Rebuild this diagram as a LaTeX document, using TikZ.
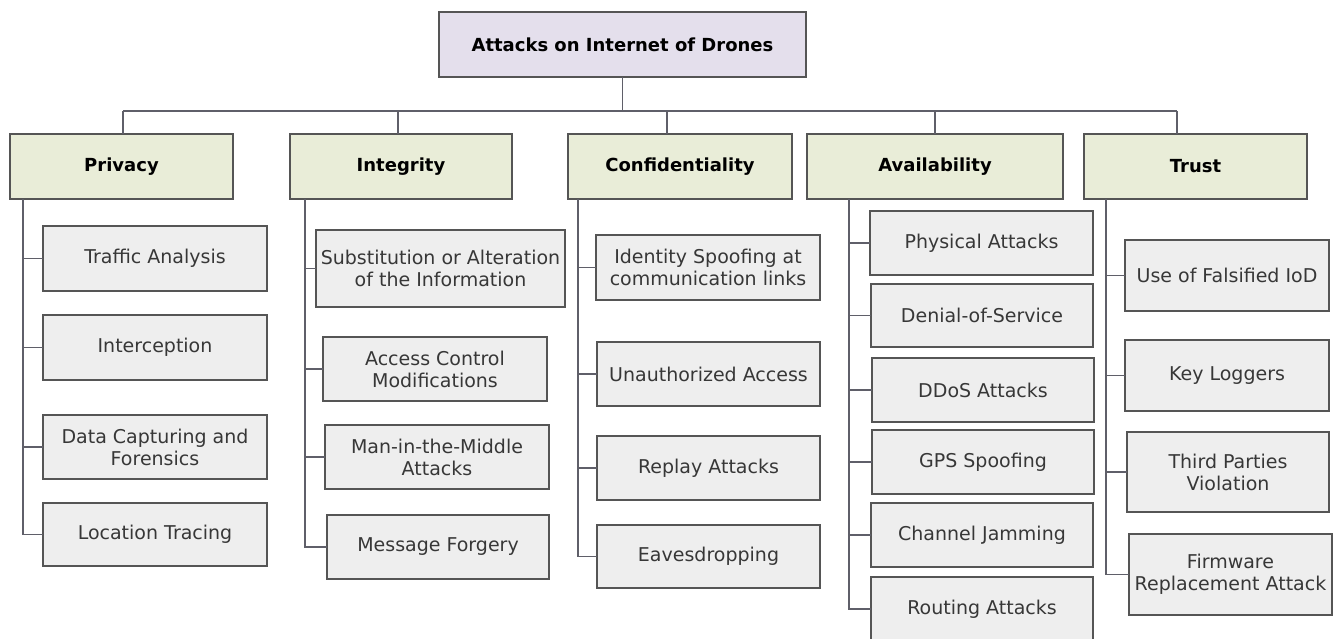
\documentclass[tikz,border=0pt]{standalone}
\usepackage{fontspec}
\setmainfont{DejaVu Sans}
\definecolor{rootfill}{RGB}{228,223,236}
\definecolor{hdrfill}{RGB}{233,237,216}
\definecolor{kidfill}{RGB}{238,238,238}
\definecolor{bordc}{RGB}{85,85,85}
\definecolor{linec}{RGB}{95,95,105}
\definecolor{kidtext}{RGB}{55,55,55}
\tikzset{
  basebox/.style={draw=bordc, line width=1.4pt, inner sep=0pt, outer sep=0pt, align=center,
    font=\fontsize{18}{22}\selectfont},
  rootbox/.style={basebox, fill=rootfill, font=\fontsize{18}{22}\selectfont\bfseries},
  hdrbox/.style={basebox, fill=hdrfill, font=\fontsize{18}{22}\selectfont\bfseries},
  kidbox/.style={basebox, fill=kidfill, text=kidtext, font=\fontsize{19}{22}\selectfont},
  conn/.style={draw=linec, line width=1.3pt}
}
\newcommand{\bx}[7]{\node[#2, minimum width={(#5-#3)*1pt}, minimum height={(#6-#4)*1pt}] (#1) at ({(#3+#5)/2},{(#4+#6)/2}) {#7};}
\begin{document}
\begin{tikzpicture}[x=1pt,y=-1pt]
\useasboundingbox (0,0) rectangle (1337,638);
\clip (0,0) rectangle (1337,638);
\fill[white] (0,0) rectangle (1337,638);
% root
\bx{R}{rootbox}{439}{12}{806}{77}{Attacks on Internet of Drones}
% headers
\bx{P}{hdrbox}{10}{134}{233}{199}{Privacy}
\bx{I}{hdrbox}{290}{134}{512}{199}{Integrity}
\bx{C}{hdrbox}{568}{134}{792}{199}{Confidentiality}
\bx{A}{hdrbox}{807}{134}{1063}{199}{Availability}
\bx{T}{hdrbox}{1084}{134}{1307}{199}{Trust}
% privacy
\bx{P1}{kidbox}{43}{226}{267}{291}{Traffic Analysis}
\bx{P2}{kidbox}{43}{315}{267}{380}{Interception}
\bx{P3}{kidbox}{43}{415}{267}{479}{Data Capturing and\\Forensics}
\bx{P4}{kidbox}{43}{503}{267}{566}{Location Tracing}
% integrity
\bx{I1}{kidbox}{316}{230}{565}{307}{Substitution or Alteration\\of the Information}
\bx{I2}{kidbox}{323}{337}{547}{401}{Access Control\\Modifications}
\bx{I3}{kidbox}{325}{425}{549}{489}{Man-in-the-Middle\\Attacks}
\bx{I4}{kidbox}{327}{515}{549}{579}{Message Forgery}
% confidentiality
\bx{C1}{kidbox}{596}{235}{820}{300}{Identity Spoofing at\\communication links}
\bx{C2}{kidbox}{597}{342}{820}{406}{Unauthorized Access}
\bx{C3}{kidbox}{597}{436}{820}{500}{Replay Attacks}
\bx{C4}{kidbox}{597}{525}{820}{588}{Eavesdropping}
% availability
\bx{A1}{kidbox}{870}{211}{1093}{275}{Physical Attacks}
\bx{A2}{kidbox}{871}{284}{1093}{347}{Denial-of-Service}
\bx{A3}{kidbox}{872}{358}{1094}{422}{DDoS Attacks}
\bx{A4}{kidbox}{872}{430}{1094}{494}{GPS Spoofing}
\bx{A5}{kidbox}{871}{503}{1093}{567}{Channel Jamming}
\bx{A6}{kidbox}{871}{577}{1093}{641}{Routing Attacks}
% trust
\bx{T1}{kidbox}{1125}{240}{1329}{311}{Use of Falsified IoD}
\bx{T2}{kidbox}{1125}{340}{1329}{411}{Key Loggers}
\bx{T3}{kidbox}{1127}{432}{1329}{512}{Third Parties\\Violation}
\bx{T4}{kidbox}{1129}{534}{1332}{615}{Firmware\\Replacement Attack}
% bus
\coordinate (bP) at (123,111);
\coordinate (bI) at (398,111);
\coordinate (bC) at (667,111);
\coordinate (bA) at (935,111);
\coordinate (bT) at (1177,111);
\draw[conn] (bP) -- (bT);
\draw[conn] (R.south) -- (R.south |- bP);
\draw[conn] (bP) -- (bP |- P.north);
\draw[conn] (bI) -- (bI |- I.north);
\draw[conn] (bC) -- (bC |- C.north);
\draw[conn] (bA) -- (bA |- A.north);
\draw[conn] (bT) -- (bT |- T.north);
% trunks
\coordinate (tP) at (23,199);
\coordinate (tI) at (305,199);
\coordinate (tC) at (578,199);
\coordinate (tA) at (849,199);
\coordinate (tT) at (1106,199);
\draw[conn] (tP) |- (P4.west);
\foreach \k in {P1,P2,P3} \draw[conn] (tP |- \k.west) -- (\k.west);
\draw[conn] (tI) |- (I4.west);
\foreach \k in {I1,I2,I3} \draw[conn] (tI |- \k.west) -- (\k.west);
\draw[conn] (tC) |- (C4.west);
\foreach \k in {C1,C2,C3} \draw[conn] (tC |- \k.west) -- (\k.west);
\draw[conn] (tA) |- (A6.west);
\foreach \k in {A1,A2,A3,A4,A5} \draw[conn] (tA |- \k.west) -- (\k.west);
\draw[conn] (tT) |- (T4.west);
\foreach \k in {T1,T2,T3} \draw[conn] (tT |- \k.west) -- (\k.west);
\end{tikzpicture}
\end{document}
